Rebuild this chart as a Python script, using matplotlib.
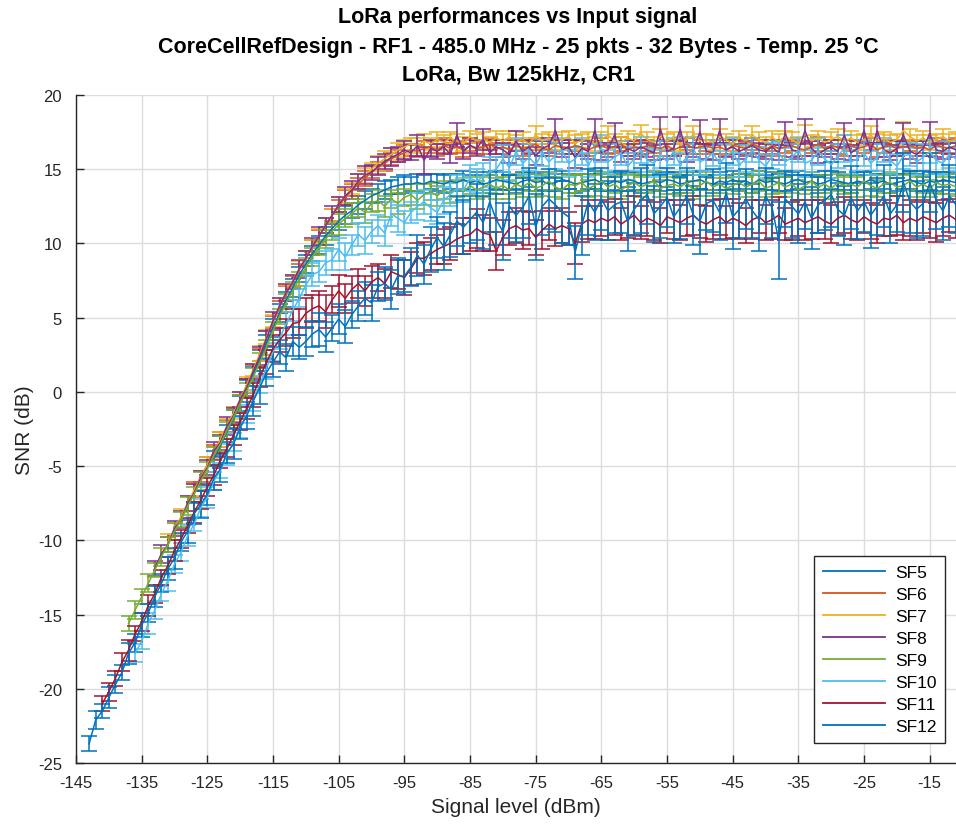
import numpy as np
import matplotlib
matplotlib.use("Agg")
import matplotlib.pyplot as plt
from matplotlib.lines import Line2D

plt.rcParams['font.family'] = ['Liberation Sans', 'DejaVu Sans']
plt.rcParams['axes.unicode_minus'] = False

labels = ["SF5", "SF6", "SF7", "SF8", "SF9", "SF10", "SF11", "SF12"]
colors = ["#0072BD", "#D95319", "#EDB120", "#7E2F8E", "#77AC30", "#4DBEEE", "#A2142F", "#0072BD"]
x_start = [-124, -127, -131, -133, -137, -136, -141, -143]

snr_sf5 = [-4.5,-3.6,-2.7,-1.8,-0.8,0.2,1.2,2.2,3.3,4.3,
           5.3,6.2,7.0,7.9,8.6,9.3,9.9,10.5,11.0,11.5,
           11.9,12.2,12.6,12.9,13.2,13.4,13.6,13.8,13.9,14.0,
           14.0,14.1,14.0,14.2,14.1,14.0,14.2,14.1,14.3,14.1,
           14.2,14.0,14.1,14.3,14.2,14.1,14.0,14.2,14.3,14.1,
           14.2,14.0,14.1,14.3,14.2,14.0,14.1,14.2,14.3,14.1,
           14.0,14.2,14.1,14.3,14.2,14.0,14.1,14.2,14.1,14.3,
           14.2,14.0,14.1,14.2,14.3,14.1,14.0,14.2,14.1,14.3,
           14.1,14.2,14.0,14.3,14.1,14.2,14.1,14.0,14.2,14.3,
           14.1,14.2,14.0,14.1,14.3,14.2,14.1,14.0,14.2,14.1,
           14.3,14.1,14.2,14.0,14.1,14.2,14.3,14.1,14.0,14.2,
           14.1,14.3,14.2,14.1]
err_sf5 = [0.5,0.6,0.5,0.6,0.5,0.6,0.5,0.6,0.5,0.6,
           0.6,0.5,0.6,0.5,0.6,0.5,0.6,0.6,0.5,0.6,
           0.6,0.5,0.6,0.6,0.5,0.6,0.6,0.5,0.6,0.6,
           0.5,0.6,0.6,0.5,0.6,0.6,0.5,0.6,0.6,0.5,
           0.6,0.6,0.5,0.6,0.6,0.5,0.6,0.6,0.5,0.6,
           0.6,0.5,0.6,0.6,0.5,0.6,0.6,0.5,0.6,0.6,
           0.5,0.6,0.6,0.5,0.6,0.6,0.5,0.6,0.6,0.5,
           0.6,0.6,0.5,0.6,0.6,0.5,0.6,0.6,0.5,0.6,
           0.6,0.5,0.6,0.6,0.5,0.6,0.6,0.5,0.6,0.6,
           0.5,0.6,0.6,0.5,0.6,0.6,0.5,0.6,0.6,0.5,
           0.6,0.6,0.5,0.6,0.6,0.5,0.6,0.6,0.5,0.6,
           0.6,0.5,0.6,0.6]

snr_sf6 = [-6.6,-5.7,-4.9,-4.0,-3.2,-2.3,-1.5,-0.6,0.4,1.4,
           2.5,3.6,4.7,5.7,6.6,7.4,8.2,9.0,9.8,10.5,
           11.2,11.9,12.5,13.1,13.6,14.0,14.4,14.8,15.1,15.4,
           15.7,15.9,16.1,16.3,16.2,16.4,16.5,16.3,16.6,16.4,
           16.5,16.3,16.6,16.4,16.5,16.7,16.4,16.5,16.3,16.6,
           16.4,16.5,16.7,16.4,16.3,16.6,16.5,16.4,16.6,16.5,
           16.3,16.5,16.6,16.4,16.5,16.7,16.3,16.5,16.4,16.6,
           16.5,16.4,16.6,16.3,16.5,16.7,16.4,16.5,16.6,16.4,
           16.5,16.3,16.6,16.5,16.4,16.7,16.5,16.3,16.6,16.4,
           16.5,16.6,16.4,16.3,16.5,16.7,16.4,16.6,16.5,16.3,
           16.6,16.4,16.5,16.7,16.3,16.5,16.6,16.4,16.5,16.6,
           16.4,16.5,16.3,16.6,16.5,16.4,16.6]
err_sf6 = [0.5,0.4,0.5,0.4,0.5,0.4,0.5,0.4,0.5,0.4,
           0.4,0.5,0.4,0.4,0.5,0.4,0.4,0.5,0.4,0.4,
           0.5,0.4,0.4,0.5,0.4,0.4,0.5,0.4,0.4,0.5,
           0.4,0.4,0.5,0.4,0.4,0.5,0.4,0.4,0.5,0.4,
           0.4,0.5,0.4,0.4,0.5,0.4,0.4,0.5,0.4,0.4,
           0.5,0.4,0.4,0.5,0.4,0.4,0.5,0.4,0.4,0.5,
           0.4,0.4,0.5,0.4,0.4,0.5,0.4,0.4,0.5,0.4,
           0.4,0.5,0.4,0.4,0.5,0.4,0.4,0.5,0.4,0.4,
           0.5,0.4,0.4,0.5,0.4,0.4,0.5,0.4,0.4,0.5,
           0.4,0.4,0.5,0.4,0.4,0.5,0.4,0.4,0.5,0.4,
           0.4,0.5,0.4,0.4,0.5,0.4,0.4,0.5,0.4,0.4,
           0.5,0.4,0.4,0.5,0.4,0.4,0.5]

snr_sf7 = [-10.1,-9.2,-8.4,-7.5,-6.6,-5.8,-4.9,-4.1,-3.2,-2.3,
           -1.4,-0.5,0.5,1.5,2.6,3.7,4.8,5.8,6.7,7.5,
           8.3,9.0,9.8,10.5,11.2,11.9,12.6,13.2,13.7,14.2,
           14.6,15.0,15.4,15.7,16.0,16.3,16.5,16.7,16.6,16.9,
           16.7,17.0,16.8,17.1,16.9,16.7,17.2,16.9,17.0,16.8,
           17.1,16.9,17.2,16.8,17.0,16.7,17.3,16.9,17.1,16.8,
           17.0,17.2,16.8,16.9,17.1,16.7,17.0,17.3,16.9,16.8,
           17.1,16.9,17.4,17.0,16.8,17.2,16.9,17.1,16.7,17.0,
           17.3,16.9,17.0,16.8,17.2,17.0,16.7,17.1,16.9,17.3,
           17.0,16.8,17.1,16.9,17.2,17.0,16.7,17.4,16.9,17.1,
           16.8,17.0,17.2,16.9,17.1,16.8,17.0,17.3,16.9,17.1,
           16.8,17.0,17.6,17.2,16.9,17.1,16.8,17.0,17.2,16.9,
           17.0]
err_sf7 = [0.5,0.4,0.5,0.5,0.4,0.5,0.5,0.4,0.5,0.5,
           0.4,0.5,0.5,0.4,0.5,0.5,0.4,0.5,0.5,0.4,
           0.5,0.5,0.4,0.5,0.5,0.4,0.5,0.5,0.4,0.5,
           0.5,0.4,0.5,0.5,0.4,0.5,0.5,0.4,0.5,0.5,
           0.4,0.5,0.5,0.4,0.5,0.5,0.4,0.5,0.5,0.4,
           0.5,0.5,0.4,0.5,0.5,0.4,0.6,0.5,0.4,0.5,
           0.5,0.4,0.5,0.5,0.4,0.5,0.5,0.6,0.5,0.4,
           0.5,0.5,0.6,0.5,0.4,0.5,0.5,0.4,0.5,0.5,
           0.6,0.5,0.4,0.5,0.5,0.4,0.5,0.5,0.4,0.6,
           0.5,0.4,0.5,0.5,0.4,0.5,0.5,0.6,0.4,0.5,
           0.4,0.5,0.5,0.4,0.5,0.5,0.4,0.6,0.5,0.4,
           0.5,0.4,0.6,0.5,0.4,0.5,0.5,0.4,0.5,0.5,
           0.5]

snr_sf8 = [-11.9,-10.9,-10.3,-9.2,-8.6,-7.5,-6.8,-5.8,-5.1,-4.0,
           -3.4,-2.3,-1.6,-0.5,0.3,1.4,2.4,
           3.6,4.8,5.8,6.7,7.4,8.3,9.0,9.8,10.5,11.2,
           11.9,12.6,13.2,13.6,14.2,14.6,14.8,15.2,15.5,15.8,
           16.0,16.3,16.1,16.6,15.6,16.4,
           16.2,16.5,16.0,17.3,16.2,16.6,16.4,17.0,16.1,16.5,
           16.3,16.0,16.9,16.2,16.5,15.9,16.4,16.6,17.6,16.3,
           16.5,15.8,16.4,16.2,17.6,16.1,16.3,17.3,16.0,16.4,
           16.2,16.5,16.3,16.1,17.7,16.2,16.4,17.7,16.0,16.3,
           17.5,16.2,16.1,17.6,16.3,16.5,16.2,16.4,16.6,16.3,
           16.2,16.5,16.1,17.4,16.3,16.2,17.6,16.4,16.0,16.3,
           16.5,16.2,17.3,16.1,16.4,17.6,16.2,17.6,16.3,16.1,
           16.4,17.3,16.2,16.0,16.4,17.4,16.3,16.2,16.5,16.3]
err_sf8 = [0.5,0.6,0.5,0.5,0.6,0.5,0.6,0.5,0.5,0.6,
           0.5,0.6,0.5,0.5,0.6,0.5,0.6,
           0.5,0.6,0.5,0.6,0.5,0.6,0.5,0.6,0.6,0.5,
           0.6,0.5,0.6,0.6,0.5,0.6,0.5,0.6,0.5,0.6,
           0.5,0.6,0.5,0.7,0.9,0.6,
           0.5,0.5,0.6,0.8,0.5,0.5,0.5,0.7,0.5,0.5,
           0.5,0.6,0.7,0.5,0.5,0.6,0.5,0.5,0.8,0.5,
           0.5,0.7,0.5,0.5,0.8,0.5,0.5,0.8,0.5,0.5,
           0.5,0.5,0.5,0.5,0.8,0.5,0.5,0.8,0.5,0.5,
           0.8,0.5,0.5,0.8,0.5,0.5,0.5,0.5,0.5,0.5,
           0.5,0.5,0.5,0.8,0.5,0.5,0.8,0.5,0.6,0.5,
           0.5,0.5,0.8,0.5,0.5,0.8,0.5,0.8,0.5,0.5,
           0.5,0.8,0.5,0.6,0.5,0.8,0.5,0.5,0.5,0.5]

snr_sf9 = [-15.6,-14.7,-13.8,-12.9,-12.0,-11.1,-10.3,-9.4,-8.6,-7.7,
           -6.9,-6.0,-5.2,-4.3,-3.5,-2.6,-1.7,-0.8,0.1,1.0,
           2.0,3.0,4.1,5.1,6.0,6.8,7.6,8.4,9.1,9.7,
           10.3,10.8,11.3,11.7,12.0,12.4,12.1,12.7,12.9,12.5,
           13.0,12.7,13.1,13.3,12.9,13.3,13.5,13.2,13.6,13.4,
           13.7,13.5,13.9,13.6,13.8,14.0,13.7,13.9,13.6,14.0,
           13.8,14.1,13.7,13.9,14.2,13.8,13.6,14.0,13.9,14.1,
           13.7,13.9,14.2,13.8,14.0,13.6,13.9,14.1,13.8,14.0,
           14.2,13.7,13.9,14.0,13.8,14.1,13.6,13.9,14.2,13.8,
           14.0,13.7,13.9,14.1,13.8,14.0,14.2,13.7,13.9,14.1,
           13.8,14.0,13.6,13.9,14.2,13.8,14.0,13.7,14.1,13.9,
           14.0,13.8,14.2,13.9,13.7,14.0,14.1,13.8,13.9,14.2,
           13.8,14.0,13.7,14.1,13.9,14.0,13.8]
err_sf9 = [0.5,0.6,0.5,0.6,0.5,0.6,0.5,0.6,0.5,0.6,
           0.5,0.6,0.5,0.6,0.5,0.6,0.5,0.6,0.5,0.6,
           0.6,0.5,0.6,0.5,0.6,0.6,0.5,0.6,0.6,0.5,
           0.6,0.6,0.7,0.6,0.7,0.6,0.7,0.6,0.7,0.7,
           0.6,0.7,0.6,0.7,0.6,0.7,0.6,0.7,0.6,0.7,
           0.6,0.7,0.6,0.6,0.7,0.6,0.7,0.6,0.6,0.7,
           0.7,0.6,0.6,0.7,0.6,0.7,0.6,0.6,0.7,0.6,
           0.6,0.7,0.6,0.7,0.6,0.6,0.7,0.6,0.7,0.6,
           0.7,0.6,0.6,0.7,0.6,0.7,0.6,0.7,0.6,0.6,
           0.6,0.7,0.6,0.6,0.7,0.6,0.7,0.6,0.6,0.7,
           0.7,0.6,0.7,0.6,0.6,0.7,0.6,0.7,0.6,0.6,
           0.6,0.7,0.6,0.7,0.6,0.6,0.7,0.6,0.7,0.6,
           0.7,0.6,0.6,0.7,0.6,0.7,0.6]

snr_sf10 = [-17.6,-16.8,-15.6,-14.7,-13.6,-12.7,-11.6,-10.8,-9.7,-8.9,
            -7.8,-7.1,-6.0,-5.3,-4.2,-3.4,-2.4,-1.5,-0.6,0.5,
            1.6,2.7,3.6,4.6,5.5,6.3,7.2,7.9,8.1,8.7,
            8.9,9.6,9.1,9.9,10.6,10.2,10.8,11.2,10.7,12.0,
            11.7,11.4,12.1,12.5,12.8,12.4,12.1,12.9,13.3,13.7,
            13.6,14.4,14.2,14.5,14.8,15.0,15.7,15.1,16.2,15.4,
            15.8,15.3,16.1,15.5,15.9,16.3,15.4,15.7,16.2,15.3,
            15.9,16.4,15.5,15.8,16.1,15.2,15.7,16.3,15.6,15.4,
            16.0,15.5,16.2,15.3,15.8,16.4,15.5,15.7,16.1,15.4,
            15.9,16.2,15.3,15.7,16.3,15.6,15.2,15.9,16.1,15.5,
            15.8,16.3,15.4,15.6,16.2,15.7,15.3,15.9,16.4,15.5,
            15.7,16.1,15.4,15.8,16.3,15.6,15.2,15.9,16.0,15.5,
            15.8,16.2,15.6,15.4,16.0,15.7]
err_sf10 = [0.6,0.5,0.7,0.6,0.5,0.7,0.6,0.6,0.7,0.5,
            0.6,0.7,0.6,0.5,0.7,0.6,0.7,0.6,0.7,0.6,
            0.7,0.6,0.7,0.8,0.7,0.6,0.7,0.8,0.7,0.8,
            0.7,0.8,0.9,0.7,0.8,0.9,0.8,0.7,0.9,0.8,
            0.9,0.8,0.7,0.9,0.8,0.9,0.8,0.9,0.8,0.9,
            0.8,0.9,0.8,0.9,1.0,0.8,0.9,0.8,0.9,0.8,
            0.9,0.8,0.9,0.8,0.9,0.8,0.9,0.8,0.9,0.8,
            0.8,0.9,0.8,0.9,0.8,0.9,0.8,0.9,0.8,0.9,
            0.9,0.8,0.9,0.8,0.9,0.8,0.9,0.8,0.9,0.8,
            0.8,0.9,0.8,0.9,0.8,0.9,0.8,0.9,0.8,0.9,
            0.9,0.8,0.9,0.8,0.9,0.8,0.9,0.8,0.9,0.8,
            0.8,0.9,0.8,0.9,0.8,0.9,0.8,0.9,0.8,0.9,
            0.9,0.8,0.9,0.8,0.9,0.8]

snr_sf11 = [-21.0,-20.2,-19.3,-18.2,-17.4,-16.3,-15.5,-14.4,-13.6,-12.5,
            -11.7,-10.7,-9.9,-9.0,-8.1,-7.3,-6.4,-5.6,-4.6,-3.8,
            -2.9,-2.0,-1.1,-0.2,1.0,2.0,2.9,3.5,4.0,4.6,
            4.7,5.3,5.6,5.8,5.4,6.2,6.8,6.3,6.9,7.3,
            6.8,7.4,7.7,7.3,8.1,7.9,7.7,8.3,9.0,9.0,
            9.3,9.6,9.8,10.0,10.3,10.5,10.6,11.0,10.7,10.6,
            9.5,10.4,11.0,11.2,10.9,11.0,10.4,10.9,11.3,11.0,
            11.2,11.0,10.0,11.3,11.6,11.4,11.7,11.5,11.8,11.3,
            11.6,11.9,11.4,11.7,11.5,11.2,11.8,11.6,11.4,11.7,
            11.9,11.5,11.3,11.6,11.8,11.4,11.7,11.5,11.2,11.6,
            11.8,11.4,11.6,11.9,11.3,11.5,11.7,11.4,11.6,11.8,
            11.5,11.3,11.7,11.9,11.6,11.4,11.8,11.5,11.3,11.7,
            11.6,11.9,11.4,11.7,11.5,11.8,11.6,11.4,11.7,11.9,
            11.6]
err_sf11 = [0.5,0.6,0.5,0.6,0.7,0.5,0.6,0.7,0.6,0.5,
            0.6,0.7,0.6,0.5,0.7,0.6,0.6,0.7,0.5,0.6,
            0.7,0.6,0.7,0.8,0.7,0.8,0.9,0.8,0.9,1.0,
            0.9,1.0,0.9,1.0,1.1,0.9,1.1,1.0,0.9,1.0,
            1.0,1.1,0.9,1.0,1.1,1.0,1.2,1.1,1.0,1.1,
            1.1,1.0,1.2,1.1,1.0,1.2,1.1,1.3,1.2,1.1,
            1.3,1.2,1.1,1.2,1.3,1.1,1.2,1.3,1.1,1.2,
            1.2,1.1,1.4,1.2,1.3,1.1,1.2,1.3,1.2,1.1,
            1.2,1.3,1.1,1.2,1.3,1.2,1.1,1.3,1.2,1.2,
            1.3,1.1,1.2,1.3,1.2,1.1,1.3,1.2,1.2,1.3,
            1.1,1.2,1.3,1.2,1.1,1.3,1.2,1.2,1.3,1.1,
            1.2,1.3,1.1,1.2,1.3,1.2,1.1,1.2,1.3,1.2,
            1.1,1.3,1.2,1.2,1.3,1.1,1.2,1.3,1.2,1.1,
            1.2]

snr_sf12 = [-23.7,-22.1,-21.5,-20.6,-19.7,-18.9,-17.6,-16.9,-15.7,-14.9,
            -13.8,-12.9,-11.9,-11.2,-10.1,-9.4,-8.2,-7.6,-6.9,-5.8,
            -5.2,-4.1,-3.5,-2.4,-1.6,-0.6,0.3,1.3,2.0,2.7,
            2.3,3.4,3.0,3.4,3.9,4.2,3.7,4.3,4.9,4.4,
            5.2,5.8,6.3,6.0,7.1,7.3,6.9,7.8,7.8,8.4,
            9.2,8.6,9.6,10.4,9.8,10.6,11.5,11.1,11.6,12.1,
            11.4,12.8,11.6,10.8,12.5,11.9,12.4,13.2,11.1,12.5,
            13.0,12.6,12.1,11.8,9.4,11.2,12.8,12.1,13.0,12.2,
            12.6,12.8,11.5,12.3,12.9,13.3,12.0,12.5,13.1,11.8,
            12.4,13.2,11.9,11.5,12.7,12.9,12.1,13.4,11.8,12.3,
            13.0,12.2,11.6,13.2,12.4,10.2,13.0,12.5,12.0,12.8,
            11.7,12.6,12.9,13.3,12.3,11.9,13.1,12.2,12.8,11.9,
            12.5,13.2,12.0,12.6,14.1,12.8,12.3,12.7,14.1,12.9,
            12.2,13.2,12.6]
err_sf12 = [0.5,0.6,0.5,0.7,0.6,0.5,0.7,0.6,0.8,0.6,
            0.7,0.6,0.8,0.7,0.6,0.8,0.7,0.9,0.7,0.8,
            0.9,0.7,1.0,0.8,0.9,1.0,1.1,0.9,1.0,0.8,
            0.9,1.0,0.8,1.0,0.9,1.1,1.0,0.9,1.0,1.1,
            0.9,1.0,1.1,1.2,1.0,1.1,1.3,1.2,1.1,1.3,
            1.4,1.3,1.5,1.4,1.6,1.5,1.7,1.8,1.6,1.9,
            1.8,2.0,1.7,1.9,2.1,1.8,2.0,1.9,2.2,1.9,
            2.0,1.8,2.1,1.9,1.8,2.0,2.2,1.9,2.1,2.0,
            1.9,2.1,2.0,1.8,2.2,2.0,1.9,2.1,2.0,1.8,
            2.1,1.9,2.0,2.2,1.8,2.1,1.9,2.0,2.2,1.9,
            2.0,1.8,2.1,1.9,2.0,2.6,1.9,2.1,2.0,1.8,
            2.1,1.9,2.0,2.2,1.8,2.0,2.1,1.9,2.0,2.2,
            1.9,2.1,2.0,1.8,2.0,2.1,1.9,2.2,2.0,1.9,
            2.0,2.1,1.9]

snr_all = [snr_sf5, snr_sf6, snr_sf7, snr_sf8, snr_sf9, snr_sf10, snr_sf11, snr_sf12]
err_all = [err_sf5, err_sf6, err_sf7, err_sf8, err_sf9, err_sf10, err_sf11, err_sf12]

x_ticks = [-145, -135, -125, -115, -105, -95, -85, -75, -65, -55, -45, -35, -25, -15]
y_ticks = [-25, -20, -15, -10, -5, 0, 5, 10, 15, 20]

fig = plt.figure(figsize=(9.56, 8.28), dpi=100)
ax = fig.add_axes([76/956, 64/828, 880/956, 668/828])

for lab, col, xs, y, e in zip(labels, colors, x_start, snr_all, err_all):
    n = min(len(y), len(e))
    x = np.arange(xs, xs + n)
    ax.errorbar(x, y[:n], yerr=e[:n], color=col, lw=1.1, elinewidth=1.1,
                capsize=6, capthick=1.1, label=lab)

ax.set_xlim(-145, -11)
ax.set_ylim(-25, 20)
ax.set_xticks(x_ticks)
ax.set_yticks(y_ticks)
ax.grid(True, color='#dcdcdc', lw=1.0)
ax.set_axisbelow(True)
for s in ['top', 'right']:
    ax.spines[s].set_visible(False)
for s in ['left', 'bottom']:
    ax.spines[s].set_color('#262626')
    ax.spines[s].set_linewidth(1.0)
ax.tick_params(direction='in', length=6, width=1.0, colors='#262626',
               labelsize=12, labelcolor='#262626')
ax.tick_params(axis='x', pad=9)
ax.tick_params(axis='y', pad=10)
ax.set_xlabel('Signal level (dBm)', fontsize=15, color='#262626', labelpad=5)
ax.set_ylabel('SNR (dB)', fontsize=15, color='#262626', labelpad=3)

title_kw = dict(ha='center', va='center', fontsize=15.5, fontweight='bold', color='black')
fig.text(518/956, 1 - 18/828, 'LoRa performances vs Input signal', **title_kw)
fig.text(518/956, 1 - 47/828,
         'CoreCellRefDesign - RF1 - 485.0 MHz - 25 pkts - 32 Bytes - Temp. 25 \u00b0C', **title_kw)
fig.text(518/956, 1 - 75/828, 'LoRa, Bw 125kHz, CR1', **title_kw)

handles = [Line2D([0], [0], color=c, lw=1.3) for c in colors]
leg = ax.legend(handles, labels, loc='lower right', bbox_to_anchor=(0.9875, 0.03),
                borderaxespad=0.0, fontsize=12.5, frameon=True, fancybox=False,
                edgecolor='#262626', framealpha=1.0, handlelength=3.6,
                handletextpad=0.55, labelspacing=0.40, borderpad=0.5)
leg.get_frame().set_linewidth(1.0)

fig.savefig('out.png', dpi=100)
